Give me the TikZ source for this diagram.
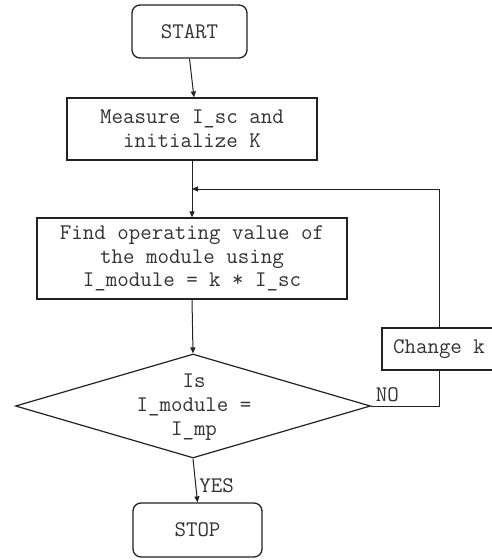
\documentclass[tikz,border=0pt]{standalone}
\usetikzlibrary{shapes.geometric,arrows.meta}
\definecolor{ink}{HTML}{222222}
\definecolor{txt}{HTML}{333333}
\begin{document}
\begin{tikzpicture}[x=1pt,y=-1pt,
  every node/.style={font=\ttfamily\fontsize{22.3}{23.8}\selectfont, text=txt, align=center, inner sep=0pt},
  terminal/.style={draw=ink, line width=1.3pt, rounded corners=8pt},
  procbox/.style={draw=ink, line width=1.2pt},
  flow/.style={draw=ink, line width=1pt, -{Triangle[length=6pt,width=5pt]}},
  link/.style={draw=ink, line width=1pt}]
\useasboundingbox (0,0) rectangle (491,560);
\fill[white] (0,0) rectangle (491,560);

% steps of the procedure
\node[terminal, minimum width=115pt, minimum height=53pt] (start) at (189.5,31.5) {START};
\node[procbox, minimum width=250pt, minimum height=62pt] (measure) at (192,129) {Measure I\_sc and\\initialize K};
\node[procbox, minimum width=310pt, minimum height=81pt] (find) at (192,258.5) {Find operating value of\\the module using\\I\_module = k * I\_sc};
\node[diamond, draw=ink, line width=1.2pt, minimum width=355pt, minimum height=104pt, shape aspect=3.4] (dec) at (193,406) {};
\node (dectext) at (194,407) {Is\\I\_module =\\I\_mp};
\node[procbox, minimum width=114pt, minimum height=42pt] (change) at (439,349) {Change k};
\node[terminal, minimum width=129pt, minimum height=54pt] (stop) at (197.5,530) {STOP};

% return point of the loop
\coordinate (loopin) at (192,189);

% connectors
\draw[flow] (start.south) -- ([xshift=2pt]measure.north);
\draw[flow] (measure.south) -- (find.north);
\draw[flow] (find.south) -- (dec.north);
\draw[flow] (dec.south) -- (stop.north) node[pos=0.62, right=3pt] (yes) {YES};
\draw[link] (dec.east) -| (change.south) node[pos=0.12, above=4pt] (no) {NO};
\draw[flow] (change.north) |- (loopin);
\end{tikzpicture}
\end{document}
